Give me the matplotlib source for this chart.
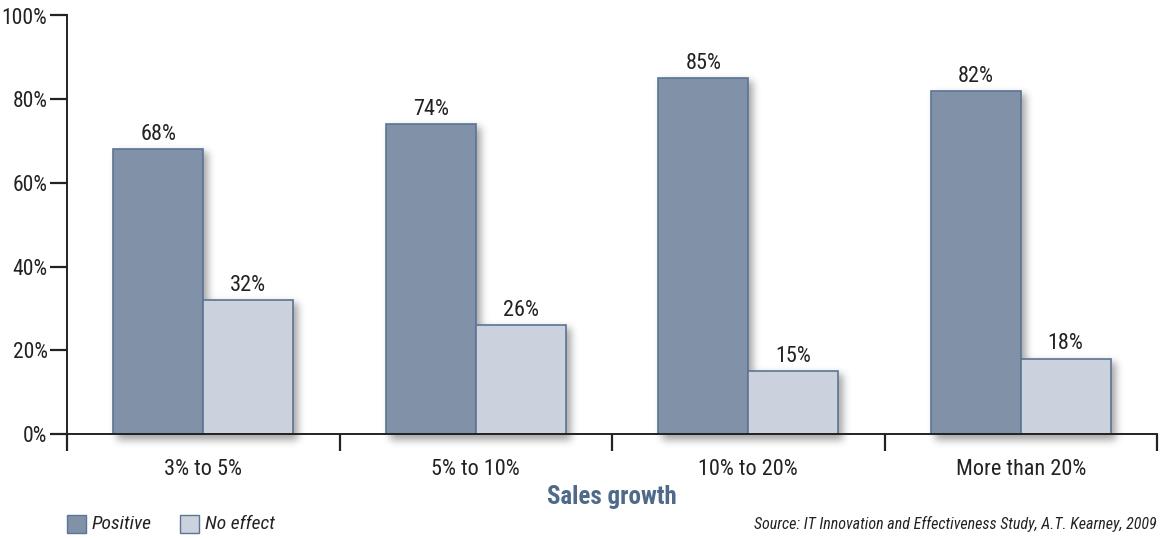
import numpy as np
import matplotlib.pyplot as plt
from matplotlib.patches import Rectangle
from matplotlib import font_manager

categories = ['3% to 5%', '5% to 10%', '10% to 20%', 'More than 20%']
positive = [68, 74, 85, 82]
no_effect = [32, 26, 15, 18]
series_names = ['Positive', 'No effect']
y_ticks = [0, 20, 40, 60, 80, 100]
source_text = 'Source: IT Innovation and Effectiveness Study, A.T. Kearney, 2009'

# pick a condensed sans, falling back to Roboto
names = {f.name for f in font_manager.fontManager.ttflist}
candidates = ['Roboto Condensed', 'Archivo Narrow', 'PT Sans Narrow', 'Liberation Sans Narrow',
              'Open Sans Condensed', 'Roboto']
family = next(c for c in candidates if c in names)
plt.rcParams['font.family'] = [family, 'DejaVu Sans']

dark = '#8191a8'
light = '#cbd2dd'
edge = '#5b7594'
text_col = '#222222'

W, H = 1161, 538
fig = plt.figure(figsize=(W / 100, H / 100), dpi=100)
ax = fig.add_axes([67 / W, 1 - 434 / H, (1157 - 67) / W, (434 - 15.5) / H])
ax.set_zorder(1)
ax.patch.set_visible(False)

n = len(categories)
bw = 0.33
xs = [i + 0.5 for i in range(n)]

ax.set_xlim(0, n)
ax.set_ylim(0, 100)

pos_bars = ax.bar([x - bw / 2 for x in xs], positive, width=bw, color=dark, edgecolor=edge,
                  linewidth=1.2, zorder=3)
neg_bars = ax.bar([x + bw / 2 for x in xs], no_effect, width=bw, color=light, edgecolor=edge,
                  linewidth=1.2, zorder=3)

# soft drop shadow: rasterise bar footprints, offset and blur them
mask = np.zeros((H, W))
for b in list(pos_bars) + list(neg_bars):
    (x0, y0), (x1, y1) = ax.transData.transform([(b.get_x(), 0), (b.get_x() + b.get_width(), b.get_height())])
    r0, r1 = int(round(H - y1)) + 3, int(round(H - y0)) + 6
    mask[r0:r1, int(round(x0)) + 4:int(round(x1)) + 5] = 1.0
k = np.exp(-0.5 * (np.arange(-12, 13) / 4.0) ** 2)
k /= k.sum()
mask = np.apply_along_axis(lambda r: np.convolve(r, k, mode='same'), 1, mask)
mask = np.apply_along_axis(lambda c: np.convolve(c, k, mode='same'), 0, mask)
shadow = np.zeros((H, W, 4))
shadow[..., 3] = mask * 0.36
fig.figimage(shadow[::-1], xo=0, yo=0, origin='lower', zorder=0)

for x, p, q in zip(xs, positive, no_effect):
    ax.text(x - bw / 2, p + 1.0, f'{p}%', ha='center', va='bottom', fontsize=16, color=text_col)
    ax.text(x + bw / 2, q + 1.0, f'{q}%', ha='center', va='bottom', fontsize=16, color=text_col)

ax.set_yticks(y_ticks)
ax.set_yticklabels([f'{v}%' for v in y_ticks], fontsize=15.5, color=text_col)
ax.set_xticks(range(n + 1))
ax.set_xticklabels([])
ax.set_xticks(xs, minor=True)
ax.set_xticklabels(categories, minor=True, fontsize=16, color=text_col)
ax.tick_params(axis='y', length=12, width=1.6, pad=2, color='#222222')
ax.tick_params(axis='x', which='major', length=12, width=1.6, color='#222222')
ax.tick_params(axis='x', which='minor', length=0, pad=18)
for s in ('top', 'right'):
    ax.spines[s].set_visible(False)
for s in ('left', 'bottom'):
    ax.spines[s].set_linewidth(1.4)
    ax.spines[s].set_color('#222222')
    ax.spines[s].set_zorder(4)

fig.text((67 + 1157) / 2 / W, 1 - 497 / H, 'Sales growth', ha='center', va='center',
         fontsize=18, fontweight='bold', color='#4f6a88')

# legend row
for lx, name, col in ((67, series_names[0], dark), (180, series_names[1], light)):
    fig.patches.append(Rectangle((lx / W, 1 - 533 / H), 19 / W, 18 / H, facecolor=col,
                                 edgecolor=edge, linewidth=1, transform=fig.transFigure))
    fig.text((lx + 25) / W, 1 - 524 / H, name, ha='left', va='center', fontsize=14,
             style='italic', color=text_col)

fig.text(1157 / W, 1 - 524 / H, source_text, ha='right', va='center', fontsize=11.5,
         style='italic', color=text_col)

fig.savefig('out.png', dpi=100)
